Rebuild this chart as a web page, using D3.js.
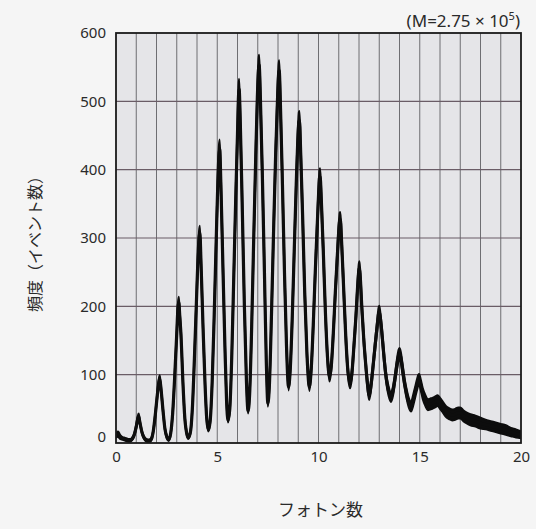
<!DOCTYPE html>
<html>
<head>
<meta charset="utf-8">
<script src="https://cdn.jsdelivr.net/npm/d3@7"></script>
<style>
  html, body { margin: 0; padding: 0; background: #f5f5f5; }
  svg { display: block; }
  text { font-family: "Noto Sans", "Open Sans", sans-serif; fill: #2a2a2a; }
  .jp { font-family: "Noto Sans CJK JP", "Noto Sans", sans-serif; }
</style>
</head>
<body>
<svg id="chart" width="536" height="529"></svg>
<script>
// ---- data ----
const xTicks = [0, 5, 10, 15, 20];
const yTicks = [0, 100, 200, 300, 400, 500, 600];
const xTitle = "フォトン数";
const yTitle = "頻度（イベント数）";

// photon-count positions (non-uniform sampling along the trace)
const photons = [
  0, 0.1, 0.2, 0.3, 0.4, 0.5, 0.6, 0.7, 0.8, 0.9, 1.0, 1.07, 1.12, 1.18, 1.28, 1.38, 1.5, 1.63,
  1.75, 1.85, 1.95, 2.05, 2.12, 2.16, 2.22, 2.32, 2.42, 2.52, 2.6,
  2.7, 2.8, 2.9, 3.0, 3.06, 3.1, 3.15, 3.21, 3.3, 3.4, 3.5, 3.57,
  3.67, 3.77, 3.87, 3.97, 4.05, 4.1, 4.14, 4.2, 4.3, 4.4, 4.48, 4.56,
  4.65, 4.75, 4.85, 4.95, 5.03, 5.08, 5.12, 5.18, 5.28, 5.38, 5.46, 5.53,
  5.62, 5.72, 5.82, 5.92, 6.0, 6.05, 6.08, 6.14, 6.24, 6.34, 6.44, 6.52,
  6.6, 6.7, 6.8, 6.9, 6.98, 7.04, 7.07, 7.13, 7.23, 7.33, 7.42, 7.5,
  7.58, 7.68, 7.78, 7.88, 7.97, 8.03, 8.06, 8.12, 8.22, 8.32, 8.42, 8.52,
  8.6, 8.7, 8.8, 8.9, 8.98, 9.03, 9.06, 9.12, 9.22, 9.32, 9.43, 9.55,
  9.64, 9.74, 9.84, 9.94, 10.01, 10.05, 10.08, 10.14, 10.24, 10.34, 10.44, 10.54,
  10.63, 10.73, 10.83, 10.93, 11.0, 11.05, 11.08, 11.14, 11.24, 11.34, 11.45, 11.56,
  11.65, 11.75, 11.85, 11.93, 11.99, 12.02, 12.06, 12.14, 12.24, 12.34, 12.42, 12.5,
  12.6, 12.7, 12.8, 12.9, 12.96, 13.0, 13.05, 13.14, 13.24, 13.34, 13.46, 13.58,
  13.68, 13.78, 13.88, 13.95, 14.0, 14.06, 14.15, 14.25, 14.35, 14.47, 14.57,
  14.67, 14.77, 14.87, 14.93, 14.97, 15.05, 15.15, 15.28, 15.4,
  15.5, 15.62, 15.75, 15.88, 16.0, 16.15, 16.3, 16.45,
  16.6, 16.75, 16.9, 17.0, 17.15, 17.3, 17.5, 17.75, 18.0, 18.25, 18.5, 18.75, 19.0, 19.25, 19.5, 19.75, 20.0
];

// frequency (event count), middle of the noisy trace
const freq = [
  11, 13, 9, 7, 6, 5, 4, 4, 6, 12, 24, 35, 39, 30, 16, 8, 4, 3,
  6, 19, 44, 73, 90, 94, 80, 48, 20, 8, 5,
  14, 44, 98, 160, 198, 206, 185, 158, 92, 36, 13, 8,
  15, 50, 122, 205, 272, 300, 308, 262, 168, 84, 36, 19,
  32, 90, 188, 298, 382, 420, 430, 378, 258, 140, 62, 33,
  50, 130, 248, 366, 452, 508, 518, 466, 338, 200, 92, 47,
  72, 170, 298, 418, 505, 548, 553, 505, 388, 250, 122, 58,
  88, 190, 308, 418, 498, 540, 545, 495, 378, 250, 142, 82,
  105, 180, 280, 378, 445, 470, 472, 425, 328, 220, 130, 82,
  108, 172, 250, 320, 368, 388, 390, 355, 278, 192, 128, 97,
  112, 160, 220, 274, 310, 326, 327, 295, 228, 160, 106, 87,
  102, 142, 186, 228, 252, 256, 244, 198, 150, 112, 86, 70,
  86, 114, 144, 172, 188, 192, 184, 158, 124, 96, 76, 67,
  76, 95, 116, 128, 131, 126, 108, 88, 72, 58, 53,
  62, 74, 86, 92, 93, 85, 72, 62, 56,
  57, 58, 60, 62, 58, 52, 46, 43,
  41, 42, 44, 44, 40, 37, 34, 32, 29, 27, 25, 23, 21, 19, 16, 14, 12
];

// half-height of the noise band around the trace
const spread = [
  3, 4, 3, 2, 2, 2, 2, 2, 2, 2, 3, 4, 4, 3, 2, 2, 2, 2,
  2, 2, 3, 4, 5, 5, 4, 3, 2, 2, 2,
  2, 3, 4, 6, 7, 8, 7, 6, 4, 3, 2, 2,
  2, 3, 5, 7, 8, 10, 10, 8, 6, 4, 3, 2,
  3, 4, 6, 9, 12, 14, 14, 12, 9, 6, 4, 3,
  3, 5, 8, 11, 14, 15, 15, 13, 10, 7, 5, 4,
  4, 6, 9, 12, 14, 15, 15, 14, 11, 8, 6, 5,
  5, 7, 9, 12, 14, 15, 15, 14, 11, 8, 6, 5,
  5, 7, 9, 11, 13, 14, 14, 13, 10, 8, 6, 6,
  6, 7, 9, 11, 12, 12, 12, 11, 9, 8, 7, 7,
  6, 7, 8, 10, 11, 11, 11, 10, 9, 8, 7, 7,
  7, 7, 8, 9, 10, 10, 9, 9, 8, 7, 7, 7,
  7, 7, 8, 8, 9, 9, 8, 8, 8, 7, 7, 7,
  7, 7, 8, 8, 8, 8, 8, 7, 7, 7, 7,
  8, 8, 8, 8, 8, 8, 8, 8, 8,
  8, 8, 8, 8, 8, 8, 8, 8,
  8, 8, 8, 8, 8, 8, 8, 8, 8, 7, 7, 7, 7, 7, 6, 6, 5
];

// ---- drawing ----
const svg = d3.select("#chart");
const W = 536, H = 529;
const mLeft = 116, mRight = 521, mTop = 33, mBottom = 443;

svg.append("rect").attr("width", W).attr("height", H).attr("fill", "#f5f5f5");

const x = d3.scaleLinear().domain([0, 20]).range([mLeft, mRight]);
const y = d3.scaleLinear().domain([0, 600]).range([mBottom, mTop]);

// plot background
svg.append("rect")
  .attr("x", mLeft).attr("y", mTop)
  .attr("width", mRight - mLeft).attr("height", mBottom - mTop)
  .attr("fill", "#e5e5e8");

// grid
svg.append("g").selectAll("line").data(d3.range(1, 20)).join("line")
  .attr("x1", d => x(d)).attr("x2", d => x(d))
  .attr("y1", mTop).attr("y2", mBottom)
  .attr("stroke", "#6e6e72").attr("stroke-width", 1);
svg.append("g").selectAll("line").data(yTicks.filter(v => v > 0 && v < 600)).join("line")
  .attr("x1", mLeft).attr("x2", mRight)
  .attr("y1", d => y(d)).attr("y2", d => y(d))
  .attr("stroke", "#6a5c66").attr("stroke-width", 1.1);

// data
const n = Math.min(photons.length, freq.length, spread.length);
const pts = d3.range(n).map(i => ({ p: photons[i], f: freq[i], s: spread[i] }));

svg.append("clipPath").attr("id", "plotclip")
  .append("rect").attr("x", mLeft).attr("y", mTop - 2)
  .attr("width", mRight - mLeft).attr("height", mBottom - mTop + 2);

const area = d3.area()
  .x(d => x(d.p))
  .y0(d => y(Math.max(0, d.f - d.s)))
  .y1(d => y(d.f + d.s))
  .curve(d3.curveMonotoneX);
const line = d3.line()
  .x(d => x(d.p))
  .y(d => y(d.f))
  .curve(d3.curveMonotoneX);

const g = svg.append("g").attr("clip-path", "url(#plotclip)");
g.append("path").datum(pts).attr("d", area)
  .attr("fill", "#0d0d0d").attr("stroke", "#0d0d0d").attr("stroke-width", 2)
  .attr("stroke-linejoin", "round");
g.append("path").datum(pts).attr("d", line)
  .attr("fill", "none").attr("stroke", "#0d0d0d").attr("stroke-width", 3.2)
  .attr("stroke-linejoin", "round");

// frame
svg.append("rect")
  .attr("x", mLeft).attr("y", mTop)
  .attr("width", mRight - mLeft).attr("height", mBottom - mTop)
  .attr("fill", "none").attr("stroke", "#1a1a1a").attr("stroke-width", 1.8);

// axes
const yAxis = svg.append("g").attr("transform", `translate(${mLeft},0)`)
  .call(d3.axisLeft(y).tickValues(yTicks).tickSize(0).tickPadding(10));
yAxis.select(".domain").remove();
yAxis.selectAll("text").attr("font-size", 15).attr("fill", "#333")
  .style("font-family", '"Noto Sans", "Open Sans", sans-serif');
yAxis.selectAll(".tick").filter(d => d === 0).select("text")
  .attr("transform", "translate(0,-6)");

const xAxis = svg.append("g").attr("transform", `translate(0,${mBottom})`)
  .call(d3.axisBottom(x).tickValues(xTicks).tickSize(0).tickPadding(8));
xAxis.select(".domain").remove();
xAxis.selectAll("text").attr("font-size", 15).attr("fill", "#333")
  .style("font-family", '"Noto Sans", "Open Sans", sans-serif');

// titles
svg.append("text").attr("class", "jp")
  .attr("x", (mLeft + mRight) / 2 + 2).attr("y", 516)
  .attr("text-anchor", "middle").attr("font-size", 17)
  .text(xTitle);

svg.append("text").attr("class", "jp")
  .attr("transform", "translate(41,240) rotate(-90)")
  .attr("text-anchor", "middle").attr("font-size", 16)
  .text(yTitle);

// annotation top-right
const ann = svg.append("text")
  .attr("x", 520).attr("y", 27)
  .attr("text-anchor", "end").attr("font-size", 17);
ann.append("tspan").text("(M=2.75 × 10");
ann.append("tspan").attr("font-size", 11).attr("dy", -7).text("5");
ann.append("tspan").attr("dy", 7).text(")");
</script>
</body>
</html>
